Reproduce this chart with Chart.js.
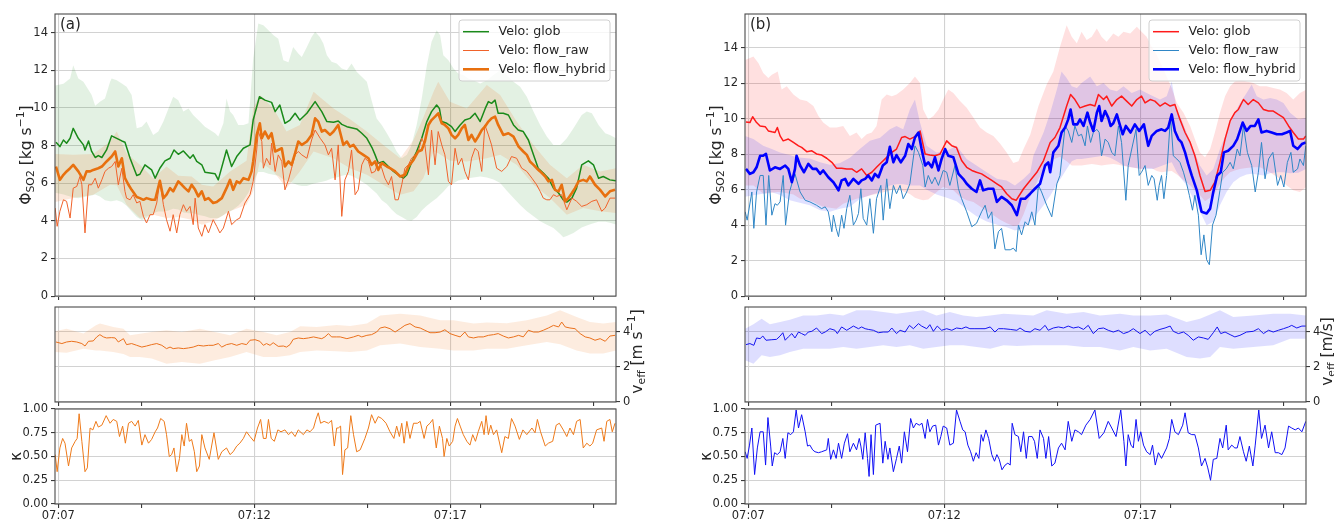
<!DOCTYPE html>
<html>
<head>
<meta charset="utf-8">
<script src="https://cdn.jsdelivr.net/npm/chart.js@4.4.1/dist/chart.umd.min.js"></script>
<style>
  html, body { margin: 0; padding: 0; background: #fff; width: 1334px; height: 519px; overflow: hidden; }
  canvas { position: absolute; }
</style>
</head>
<body>
<canvas id="aTop"></canvas>
<canvas id="aMid"></canvas>
<canvas id="aBot"></canvas>
<canvas id="bTop"></canvas>
<canvas id="bMid"></canvas>
<canvas id="bBot"></canvas>
<script>
// Time is given in minutes after 07:07:00.
const X_MIN = -0.085, X_MAX = 14.225;
const X_MAJOR = [0, 5, 10];
const X_MAJOR_LABELS = ['07:07', '07:12', '07:17'];
const X_MINOR = [2.13, 7.89, 10.76, 13.64];

const SERIES_LABELS = ['Velo: glob', 'Velo: flow_raw', 'Velo: flow_hybrid'];
const PANEL_TAGS = ['(a)', '(b)'];

// ---------- panel (a): SO2 flux [kg/s], rows are [t, value] ----------
const A_GLOB = [[-0.06,8.18],[0.04,7.95],[0.13,8.30],[0.21,8.13],[0.30,8.39],[0.38,8.92],[0.51,8.39],[0.64,8.04],[0.68,7.77],[0.77,8.25],[0.85,7.69],[0.94,7.37],[1.02,7.47],[1.11,7.37],[1.23,7.77],[1.36,8.52],[1.49,8.39],[1.62,8.25],[1.70,8.18],[1.83,7.33],[2.00,6.41],[2.08,6.48],[2.21,6.98],[2.38,6.71],[2.47,6.27],[2.59,6.80],[2.72,7.19],[2.85,7.33],[2.95,7.77],[3.06,7.54],[3.19,7.72],[3.36,7.33],[3.44,7.51],[3.53,7.16],[3.66,6.98],[3.74,6.59],[4.00,6.50],[4.08,6.18],[4.29,7.77],[4.42,6.89],[4.55,7.42],[4.72,7.86],[4.89,8.04],[4.97,9.36],[5.13,10.60],[5.27,10.42],[5.44,10.30],[5.53,9.81],[5.65,10.16],[5.78,9.19],[5.91,9.36],[6.04,9.72],[6.16,9.36],[6.34,9.72],[6.55,10.34],[6.72,9.81],[6.85,9.28],[7.02,9.24],[7.14,9.31],[7.23,9.13],[7.36,9.01],[7.61,8.89],[7.74,8.66],[7.87,8.39],[8.00,7.90],[8.08,7.51],[8.16,7.07],[8.29,7.16],[8.42,6.89],[8.55,6.63],[8.67,6.45],[8.80,6.27],[8.89,6.45],[9.02,7.16],[9.14,7.69],[9.27,8.39],[9.40,9.28],[9.52,9.81],[9.65,10.16],[9.72,9.98],[9.78,9.28],[9.91,9.19],[10.03,9.01],[10.12,8.75],[10.25,9.10],[10.37,9.36],[10.50,9.45],[10.63,9.72],[10.76,9.28],[10.89,9.98],[10.97,10.34],[11.05,10.25],[11.14,10.42],[11.22,9.72],[11.35,9.72],[11.48,9.63],[11.61,9.10],[11.73,8.83],[11.86,8.75],[11.99,8.30],[12.12,7.51],[12.24,6.80],[12.37,6.54],[12.50,6.27],[12.63,5.74],[12.76,5.48],[12.88,5.12],[12.97,5.00],[13.10,5.21],[13.22,5.74],[13.35,6.98],[13.52,7.19],[13.65,6.98],[13.78,6.27],[13.90,6.36],[14.07,6.18],[14.22,6.13]];

const A_RAW = [[-0.08,4.68],[-0.03,3.71],[0.04,4.51],[0.13,5.12],[0.21,5.04],[0.30,4.15],[0.38,5.74],[0.47,5.83],[0.55,6.36],[0.60,5.92],[0.68,3.36],[0.77,5.92],[0.85,5.92],[0.94,6.27],[1.02,5.74],[1.11,6.18],[1.19,6.63],[1.28,6.80],[1.36,6.89],[1.45,7.16],[1.53,5.92],[1.62,6.80],[1.70,5.57],[1.74,5.21],[1.83,5.12],[1.91,5.39],[2.00,4.95],[2.08,5.04],[2.17,4.24],[2.25,3.89],[2.34,4.33],[2.42,4.33],[2.51,4.95],[2.59,6.10],[2.68,4.86],[2.76,4.06],[2.85,3.45],[2.93,4.33],[3.02,3.36],[3.10,4.33],[3.19,4.86],[3.27,4.51],[3.36,4.77],[3.44,3.80],[3.49,5.21],[3.57,3.62],[3.66,3.18],[3.74,3.80],[3.83,3.36],[3.95,4.06],[4.04,3.71],[4.12,3.36],[4.21,3.62],[4.34,4.51],[4.42,3.80],[4.55,4.06],[4.63,4.15],[4.76,4.95],[4.89,5.39],[4.97,6.10],[5.06,7.77],[5.10,8.75],[5.19,8.22],[5.23,6.80],[5.31,7.33],[5.40,6.98],[5.44,8.13],[5.53,6.63],[5.61,7.51],[5.70,7.16],[5.78,5.65],[5.87,6.18],[5.95,6.80],[6.04,7.51],[6.12,7.69],[6.21,7.51],[6.34,7.33],[6.46,8.30],[6.55,8.83],[6.68,8.39],[6.80,8.04],[6.89,7.51],[6.97,7.86],[7.06,6.18],[7.14,8.04],[7.23,4.24],[7.31,6.18],[7.40,6.63],[7.48,7.77],[7.57,5.39],[7.65,5.65],[7.74,6.98],[7.82,7.33],[7.91,7.16],[7.99,6.54],[8.08,6.63],[8.16,7.16],[8.25,6.80],[8.33,6.27],[8.42,5.92],[8.50,6.36],[8.59,5.12],[8.67,5.12],[8.76,5.92],[8.84,6.80],[8.93,6.98],[9.01,7.33],[9.10,7.51],[9.18,7.69],[9.27,8.39],[9.35,8.04],[9.44,6.45],[9.52,8.83],[9.61,6.98],[9.69,8.75],[9.78,8.04],[9.86,7.51],[9.95,6.10],[10.03,5.92],[10.12,7.86],[10.20,6.98],[10.29,7.33],[10.37,6.63],[10.46,6.18],[10.54,7.33],[10.63,7.86],[10.71,7.69],[10.80,6.63],[10.88,9.10],[10.97,8.57],[11.05,8.04],[11.18,6.80],[11.31,6.63],[11.44,6.89],[11.56,7.42],[11.69,7.33],[11.82,6.80],[11.95,6.63],[12.08,6.27],[12.20,5.92],[12.29,5.57],[12.37,5.21],[12.46,5.12],[12.54,5.12],[12.63,5.39],[12.71,5.30],[12.84,5.39],[12.97,4.59],[13.10,5.21],[13.22,5.04],[13.35,4.77],[13.48,4.86],[13.61,5.04],[13.73,5.12],[13.86,4.51],[13.95,4.68],[14.07,5.21],[14.20,5.21]];

const A_HYBRID = [[-0.06,6.89],[0.04,6.18],[0.13,6.45],[0.21,6.63],[0.30,6.80],[0.38,6.98],[0.51,6.63],[0.64,6.18],[0.72,6.63],[0.81,6.63],[0.89,6.71],[1.02,6.80],[1.11,6.89],[1.23,7.16],[1.36,7.42],[1.45,7.69],[1.53,6.89],[1.62,7.33],[1.70,6.27],[1.79,5.92],[1.87,5.65],[2.00,5.27],[2.08,5.21],[2.17,5.12],[2.25,5.21],[2.38,5.12],[2.47,5.12],[2.59,6.13],[2.68,5.21],[2.76,5.39],[2.85,5.74],[2.93,5.57],[3.06,6.10],[3.15,5.92],[3.23,5.74],[3.32,5.57],[3.40,5.92],[3.49,5.65],[3.57,5.30],[3.66,5.57],[3.74,5.12],[3.83,5.21],[3.95,4.95],[4.04,5.00],[4.17,5.21],[4.29,5.74],[4.38,6.18],[4.46,5.65],[4.55,6.10],[4.63,6.01],[4.72,6.27],[4.85,6.18],[4.93,6.63],[4.97,7.16],[5.06,8.57],[5.14,9.19],[5.19,8.39],[5.27,8.75],[5.36,8.39],[5.44,8.66],[5.53,7.69],[5.61,7.77],[5.70,7.86],[5.78,6.89],[5.87,7.16],[5.95,6.98],[6.04,7.60],[6.12,8.22],[6.21,8.04],[6.34,8.22],[6.46,8.57],[6.55,9.45],[6.63,9.28],[6.72,8.75],[6.80,8.83],[6.93,8.57],[7.02,8.75],[7.14,9.10],[7.27,8.04],[7.36,8.22],[7.44,7.95],[7.53,8.04],[7.65,7.69],[7.78,7.51],[7.91,7.33],[7.99,6.98],[8.08,7.16],[8.16,6.71],[8.25,7.07],[8.38,6.89],[8.46,6.80],[8.59,6.63],[8.72,6.36],[8.84,6.45],[8.93,6.89],[9.06,7.24],[9.18,7.69],[9.27,7.77],[9.35,8.22],[9.44,9.10],[9.52,9.36],[9.61,9.54],[9.69,9.72],[9.78,9.19],[9.86,9.10],[9.95,8.92],[10.03,8.57],[10.12,8.39],[10.20,8.57],[10.29,8.92],[10.37,9.10],[10.46,8.30],[10.54,8.57],[10.63,8.22],[10.71,8.48],[10.80,8.83],[10.88,9.01],[10.97,9.28],[11.05,9.45],[11.14,9.54],[11.22,9.10],[11.35,8.57],[11.48,8.66],[11.61,8.48],[11.74,7.95],[11.86,7.69],[11.95,7.51],[12.03,7.16],[12.12,6.98],[12.20,6.80],[12.29,6.63],[12.42,6.36],[12.50,6.10],[12.59,6.18],[12.67,5.65],[12.76,5.57],[12.84,5.92],[12.93,5.04],[13.01,5.21],[13.10,5.48],[13.18,5.74],[13.27,6.10],[13.39,6.18],[13.48,6.10],[13.56,6.36],[13.69,5.92],[13.82,5.65],[13.95,5.30],[14.07,5.57],[14.20,5.65]];

// uncertainty bands, rows are [t, lower, upper]
const A_GLOB_BAND = [[-0.08,5.50,11.20],[0.13,5.40,11.29],[0.30,5.30,11.57],[0.38,5.25,12.28],[0.51,5.20,11.57],[0.64,5.25,11.40],[0.72,5.30,11.13],[0.85,5.35,10.69],[0.94,5.40,10.12],[1.06,5.30,10.34],[1.19,5.10,10.51],[1.32,5.05,11.40],[1.36,5.05,11.57],[1.49,5.10,11.48],[1.62,5.00,11.31],[1.74,4.80,11.13],[1.87,4.50,10.69],[2.00,4.20,8.92],[2.13,4.05,9.01],[2.25,4.15,9.28],[2.42,4.40,8.57],[2.55,4.50,8.75],[2.68,4.50,9.28],[2.81,4.55,9.98],[2.93,4.65,10.60],[3.06,4.60,10.42],[3.19,4.45,9.81],[3.32,4.40,9.98],[3.44,4.40,9.63],[3.61,4.30,9.28],[3.74,4.25,9.01],[3.87,4.15,8.83],[4.00,4.15,8.66],[4.08,4.15,8.48],[4.21,4.30,9.19],[4.29,4.45,10.51],[4.38,4.50,9.81],[4.46,4.60,9.63],[4.59,4.80,9.10],[4.72,5.10,9.10],[4.85,5.50,9.19],[4.97,6.10,12.63],[5.10,6.60,14.49],[5.23,6.60,14.40],[5.36,6.50,14.13],[5.49,6.45,13.87],[5.61,6.40,13.69],[5.74,6.20,12.54],[5.87,6.10,12.44],[5.99,6.00,13.25],[6.12,5.90,12.90],[6.21,5.85,12.72],[6.34,5.85,13.25],[6.46,5.95,13.78],[6.55,6.00,14.05],[6.67,6.05,13.78],[6.76,6.10,13.43],[6.85,6.15,12.81],[6.97,6.25,12.46],[7.10,6.30,12.37],[7.23,6.40,12.10],[7.36,6.45,12.01],[7.48,6.40,12.37],[7.61,6.25,11.93],[7.74,6.10,11.66],[7.87,5.92,11.40],[7.99,5.70,10.42],[8.12,5.45,9.45],[8.25,5.10,9.10],[8.38,4.90,8.66],[8.50,4.60,8.22],[8.63,4.35,7.69],[8.76,4.20,7.33],[8.89,4.05,7.51],[9.01,4.00,8.04],[9.14,4.20,9.10],[9.27,4.55,10.51],[9.40,4.80,12.28],[9.52,5.00,13.52],[9.65,5.20,14.13],[9.74,5.39,13.87],[9.82,5.55,12.81],[9.95,5.85,12.54],[10.08,6.00,12.10],[10.20,6.15,11.84],[10.33,6.20,11.75],[10.46,6.27,11.57],[10.59,6.30,11.48],[10.76,6.36,11.31],[10.93,6.30,11.48],[11.10,6.20,11.75],[11.27,6.01,12.01],[11.44,5.60,11.75],[11.61,5.21,11.40],[11.78,4.85,11.13],[11.95,4.51,10.60],[12.12,4.25,9.81],[12.29,3.98,9.10],[12.46,3.80,8.48],[12.63,3.62,8.04],[12.80,3.30,8.04],[12.88,3.13,8.20],[12.97,3.20,8.39],[13.14,3.36,8.92],[13.35,3.65,9.63],[13.48,3.75,9.81],[13.61,3.85,9.72],[13.78,3.95,9.10],[13.95,3.95,8.66],[14.07,3.90,8.57],[14.23,3.80,8.39]];

const A_HYBRID_BAND = [[-0.08,5.00,7.55],[0.38,5.21,7.51],[0.89,5.39,7.55],[1.32,5.92,8.22],[1.49,5.90,8.75],[1.74,4.86,7.60],[2.08,4.15,6.98],[2.42,4.33,6.27],[2.76,4.15,6.89],[3.06,4.20,6.40],[3.40,4.06,6.36],[3.66,3.80,5.92],[3.95,3.98,5.83],[4.38,4.51,6.63],[4.80,4.86,7.20],[4.97,5.57,9.98],[5.14,7.16,10.69],[5.49,6.63,9.98],[5.82,5.74,8.75],[6.16,6.63,9.10],[6.51,7.69,10.87],[7.02,7.33,9.98],[7.44,6.80,9.40],[7.87,6.45,8.75],[8.29,5.92,8.04],[8.72,5.39,7.33],[9.06,5.57,8.30],[9.31,6.27,9.50],[9.57,7.69,10.87],[9.69,7.60,11.40],[9.99,7.20,10.34],[10.42,7.16,9.98],[10.93,7.33,11.22],[11.27,7.51,10.69],[11.69,6.98,9.28],[12.12,5.92,8.04],[12.54,5.21,6.98],[12.97,4.33,6.27],[13.39,4.68,6.98],[13.82,4.51,6.63],[14.23,4.42,6.80]];

// effective plume velocity [m/s]
const A_VEFF = [[-0.06,3.43],[0.09,3.34],[0.21,3.43],[0.34,3.47],[0.47,3.43],[0.60,3.34],[0.68,3.20],[0.77,3.47],[0.89,3.49],[0.98,3.72],[1.06,3.85],[1.15,3.72],[1.23,3.66],[1.36,3.68],[1.45,3.66],[1.53,3.43],[1.66,3.62],[1.74,3.28],[1.87,3.34],[2.00,3.24],[2.13,3.14],[2.25,3.20],[2.38,3.28],[2.51,3.34],[2.64,3.24],[2.76,3.05],[2.85,3.14],[2.93,3.05],[3.06,3.09],[3.19,3.05],[3.32,3.09],[3.44,3.14],[3.57,3.24],[3.70,3.20],[3.83,3.24],[3.95,3.24],[4.08,3.34],[4.17,3.14],[4.29,3.28],[4.42,3.34],[4.55,3.24],[4.68,3.34],[4.80,3.28],[4.89,3.53],[5.02,3.56],[5.14,3.47],[5.23,3.24],[5.31,3.34],[5.40,3.24],[5.48,3.39],[5.61,3.18],[5.74,3.20],[5.82,3.14],[5.91,3.28],[5.99,3.58],[6.12,3.66],[6.25,3.62],[6.38,3.66],[6.51,3.72],[6.63,3.66],[6.72,3.62],[6.80,3.72],[6.89,3.91],[6.97,3.72],[7.10,3.72],[7.19,3.72],[7.36,3.62],[7.53,3.72],[7.65,3.81],[7.74,3.72],[7.87,3.81],[7.99,3.85],[8.12,4.00],[8.21,4.23],[8.33,4.29],[8.46,4.19],[8.59,4.00],[8.72,4.19],[8.84,4.38],[8.97,4.48],[9.10,4.29],[9.23,4.23],[9.35,4.10],[9.48,3.96],[9.61,3.96],[9.74,4.00],[9.86,4.13],[9.99,3.91],[10.12,3.81],[10.25,3.72],[10.37,4.00],[10.46,3.72],[10.59,3.66],[10.71,3.72],[10.84,3.72],[10.97,3.81],[11.10,3.85],[11.22,3.91],[11.35,3.77],[11.48,3.66],[11.61,3.72],[11.74,3.81],[11.86,3.72],[11.99,4.10],[12.12,4.00],[12.25,4.00],[12.37,4.10],[12.50,4.23],[12.63,4.38],[12.76,4.29],[12.84,4.57],[12.93,4.29],[13.05,4.23],[13.18,4.19],[13.31,3.91],[13.44,3.72],[13.56,3.66],[13.69,3.53],[13.82,3.62],[13.95,3.47],[14.07,3.77],[14.20,3.81]];

const A_VEFF_BAND = [[-0.08,2.86,4.04],[0.21,2.82,4.19],[0.64,3.05,3.91],[0.96,2.95,4.38],[1.06,2.95,4.48],[1.40,2.86,4.29],[1.66,2.75,4.19],[1.83,2.57,3.81],[2.08,2.57,3.90],[2.38,2.48,4.00],[2.76,2.19,4.10],[3.15,2.29,4.00],[3.61,2.19,4.19],[3.99,2.38,4.00],[4.38,2.57,3.81],[4.80,2.86,4.19],[5.23,2.57,4.00],[5.57,2.57,3.81],[5.91,2.67,4.00],[6.17,2.86,4.33],[6.59,2.95,4.29],[7.10,2.90,4.40],[7.44,2.86,4.35],[7.87,2.95,4.48],[8.21,3.24,4.95],[8.72,3.34,5.05],[9.23,3.14,4.95],[9.74,3.05,4.67],[10.08,2.95,4.67],[10.59,2.95,4.48],[10.93,3.05,4.55],[11.44,3.05,4.50],[11.95,3.24,4.67],[12.46,3.43,4.95],[12.80,3.30,5.24],[13.22,2.95,4.86],[13.56,2.77,4.57],[13.90,2.77,4.48],[14.23,2.95,4.57]];

// kappa
const A_KAPPA = [[-0.08,0.52],[-0.03,0.34],[0.04,0.59],[0.11,0.69],[0.17,0.64],[0.26,0.40],[0.34,0.59],[0.43,0.66],[0.48,0.69],[0.53,0.95],[0.60,0.66],[0.68,0.34],[0.74,0.38],[0.81,0.80],[0.88,0.78],[0.96,0.87],[1.02,0.81],[1.11,0.83],[1.22,0.93],[1.32,0.85],[1.40,0.89],[1.49,0.87],[1.56,0.71],[1.64,0.82],[1.71,0.64],[1.79,0.85],[1.87,0.87],[1.96,0.82],[2.04,0.88],[2.13,0.62],[2.21,0.73],[2.30,0.64],[2.38,0.68],[2.47,0.76],[2.53,0.80],[2.61,0.90],[2.70,0.87],[2.76,0.73],[2.83,0.50],[2.89,0.52],[2.95,0.59],[3.02,0.34],[3.09,0.48],[3.15,0.73],[3.21,0.61],[3.27,0.85],[3.34,0.66],[3.40,0.68],[3.47,0.55],[3.53,0.34],[3.60,0.40],[3.66,0.73],[3.74,0.59],[3.85,0.47],[3.97,0.75],[4.08,0.47],[4.17,0.55],[4.29,0.59],[4.38,0.52],[4.46,0.55],[4.55,0.61],[4.63,0.64],[4.72,0.69],[4.80,0.76],[4.89,0.71],[4.99,0.66],[5.08,0.80],[5.16,0.89],[5.23,0.69],[5.30,0.69],[5.36,0.89],[5.43,0.69],[5.51,0.66],[5.60,0.78],[5.68,0.76],[5.78,0.78],[5.87,0.73],[5.95,0.76],[6.04,0.71],[6.12,0.78],[6.25,0.73],[6.34,0.78],[6.42,0.76],[6.51,0.80],[6.57,0.89],[6.63,0.96],[6.69,0.85],[6.78,0.87],[6.89,0.85],[6.97,0.88],[7.04,0.61],[7.10,0.80],[7.14,0.80],[7.20,0.82],[7.25,0.31],[7.31,0.57],[7.38,0.59],[7.46,0.93],[7.53,0.73],[7.61,0.55],[7.70,0.57],[7.82,0.69],[7.91,0.80],[7.99,0.94],[8.08,0.85],[8.16,0.92],[8.25,0.90],[8.36,0.85],[8.46,0.76],[8.56,0.69],[8.63,0.82],[8.70,0.71],[8.76,0.85],[8.82,0.64],[8.89,0.87],[8.97,0.69],[9.06,0.85],[9.16,0.85],[9.23,0.87],[9.33,0.69],[9.40,0.82],[9.48,0.85],[9.55,0.89],[9.64,0.59],[9.72,0.82],[9.80,0.69],[9.84,0.50],[9.91,0.69],[9.97,0.61],[10.06,0.66],[10.12,0.82],[10.18,0.90],[10.25,0.82],[10.33,0.73],[10.42,0.66],[10.50,0.62],[10.57,0.73],[10.64,0.66],[10.71,0.76],[10.80,0.87],[10.86,0.73],[10.91,0.93],[10.97,0.73],[11.03,0.83],[11.10,0.73],[11.18,0.78],[11.31,0.54],[11.39,0.71],[11.48,0.69],[11.56,0.90],[11.65,0.82],[11.76,0.68],[11.85,0.78],[11.95,0.73],[12.08,0.80],[12.16,0.75],[12.22,0.89],[12.30,0.76],[12.42,0.61],[12.50,0.64],[12.61,0.66],[12.70,0.83],[12.78,0.85],[12.88,0.78],[12.97,0.71],[13.05,0.80],[13.14,0.73],[13.22,0.87],[13.31,0.89],[13.39,0.59],[13.48,0.64],[13.56,0.61],[13.63,0.64],[13.73,0.78],[13.86,0.80],[13.92,0.66],[13.99,0.87],[14.07,0.89],[14.13,0.76],[14.20,0.85]];

// ---------- panel (b) ----------
const B_GLOB = [[-0.06,9.81],[0.04,9.78],[0.11,10.11],[0.21,9.78],[0.30,9.59],[0.43,9.55],[0.51,9.31],[0.60,9.26],[0.68,9.22],[0.74,9.50],[0.81,9.03],[0.89,8.75],[1.02,8.85],[1.15,8.66],[1.28,8.47],[1.36,8.38],[1.49,8.14],[1.62,8.19],[1.74,8.01],[1.87,7.95],[2.00,7.77],[2.13,7.54],[2.25,7.21],[2.38,7.21],[2.51,7.17],[2.64,7.17],[2.76,6.98],[2.89,7.17],[3.02,6.80],[3.15,6.98],[3.27,7.26],[3.40,7.54],[3.53,7.82],[3.66,8.10],[3.78,8.29],[3.91,8.94],[4.00,8.99],[4.12,8.85],[4.25,8.99],[4.38,9.31],[4.51,8.01],[4.63,7.95],[4.76,7.91],[4.89,8.01],[5.06,8.75],[5.19,8.47],[5.31,8.38],[5.44,7.64],[5.57,7.26],[5.70,7.08],[5.82,6.98],[5.95,6.89],[6.08,6.70],[6.21,6.52],[6.34,6.33],[6.46,6.15],[6.59,5.77],[6.72,5.49],[6.83,5.40],[7.02,6.05],[7.19,6.52],[7.36,6.98],[7.53,7.64],[7.70,8.66],[7.82,8.94],[7.95,9.50],[8.12,10.71],[8.22,11.36],[8.33,11.08],[8.46,10.61],[8.59,10.71],[8.72,10.80],[8.84,10.71],[8.93,11.36],[9.06,11.08],[9.14,11.27],[9.27,10.71],[9.40,11.08],[9.52,11.27],[9.65,10.99],[9.78,10.71],[9.91,11.08],[10.03,11.27],[10.12,10.89],[10.25,11.08],[10.37,10.99],[10.50,10.71],[10.63,10.89],[10.76,10.71],[10.88,10.80],[11.01,9.96],[11.14,9.22],[11.27,8.66],[11.39,7.91],[11.52,6.80],[11.65,5.90],[11.78,5.96],[11.90,6.42],[12.03,7.54],[12.16,8.85],[12.29,9.87],[12.41,10.34],[12.50,10.52],[12.63,11.08],[12.75,10.80],[12.88,11.08],[13.01,10.89],[13.14,10.52],[13.27,10.43],[13.39,10.43],[13.52,10.24],[13.65,10.06],[13.78,9.59],[13.90,9.22],[14.03,8.85],[14.16,8.85],[14.22,9.03]];

const B_RAW = [[-0.08,4.75],[-0.03,4.28],[0.09,5.87],[0.14,3.82],[0.21,5.87],[0.30,6.80],[0.38,6.80],[0.45,4.00],[0.52,6.80],[0.60,4.56],[0.68,5.21],[0.74,5.12],[0.81,5.31],[0.89,6.80],[0.95,4.00],[1.05,5.87],[1.11,6.33],[1.19,6.89],[1.32,5.87],[1.45,5.40],[1.57,5.31],[1.74,5.12],[1.87,4.93],[1.96,5.03],[2.04,4.75],[2.13,3.63],[2.17,4.56],[2.24,3.82],[2.30,3.35],[2.38,4.56],[2.44,3.82],[2.51,4.93],[2.59,5.68],[2.68,4.00],[2.75,4.28],[2.81,4.66],[2.87,6.05],[2.93,4.38],[3.02,4.00],[3.10,5.49],[3.19,3.54],[3.27,5.49],[3.38,6.24],[3.44,4.28],[3.53,6.61],[3.61,4.93],[3.70,6.24],[3.78,5.77],[3.87,6.24],[3.95,5.49],[4.04,5.87],[4.12,6.33],[4.25,8.47],[4.34,8.10],[4.45,7.36],[4.51,6.15],[4.59,6.80],[4.68,6.33],[4.76,6.70],[4.85,6.24],[4.97,7.08],[5.06,6.98],[5.14,6.24],[5.27,7.36],[5.36,6.05],[5.44,5.49],[5.57,4.75],[5.70,3.91],[5.82,4.10],[5.95,4.75],[6.04,5.12],[6.12,4.38],[6.21,4.75],[6.29,2.66],[6.38,3.63],[6.46,3.82],[6.55,2.61],[6.68,2.61],[6.76,2.70],[6.83,2.51],[6.89,4.00],[6.97,3.45],[7.06,4.19],[7.14,4.00],[7.23,4.75],[7.31,4.00],[7.40,6.24],[7.48,5.87],[7.61,5.12],[7.74,4.47],[7.87,6.33],[7.95,6.80],[8.08,9.59],[8.16,9.31],[8.25,8.66],[8.33,9.59],[8.42,9.03],[8.50,9.12],[8.59,8.47],[8.65,9.59],[8.73,8.66],[8.80,9.22],[8.89,9.40],[8.95,9.22],[9.01,7.91],[9.10,8.85],[9.18,8.66],[9.27,8.10],[9.35,7.91],[9.44,9.59],[9.52,8.66],[9.63,5.40],[9.69,7.36],[9.78,8.29],[9.89,9.40],[9.97,6.80],[10.03,6.98],[10.12,7.36],[10.20,6.24],[10.29,6.80],[10.35,6.61],[10.43,5.40],[10.48,6.24],[10.54,6.80],[10.60,5.49],[10.67,6.80],[10.77,10.15],[10.84,7.91],[10.93,7.73],[11.01,7.54],[11.10,6.98],[11.18,6.33],[11.25,5.68],[11.33,4.84],[11.39,5.68],[11.48,4.56],[11.55,2.33],[11.62,3.45],[11.69,2.05],[11.76,1.77],[11.84,4.00],[11.93,4.56],[12.03,5.96],[12.10,6.98],[12.19,7.17],[12.29,7.54],[12.37,7.17],[12.47,8.29],[12.54,7.91],[12.63,9.59],[12.73,8.10],[12.84,7.36],[12.93,5.87],[13.01,6.98],[13.09,8.66],[13.18,6.61],[13.27,7.73],[13.38,8.10],[13.50,6.24],[13.58,6.80],[13.66,6.15],[13.75,7.54],[13.84,8.10],[13.90,6.98],[14.01,7.17],[14.07,7.73],[14.16,7.36],[14.22,8.47]];

const B_HYBRID = [[-0.06,7.17],[0.04,6.89],[0.13,6.98],[0.21,7.26],[0.30,7.91],[0.37,7.91],[0.45,8.01],[0.55,7.08],[0.68,7.26],[0.81,7.17],[0.94,7.36],[1.02,7.17],[1.11,6.42],[1.19,7.17],[1.23,7.91],[1.32,7.36],[1.42,6.98],[1.53,7.45],[1.64,7.17],[1.74,7.17],[1.83,6.89],[1.91,7.08],[2.04,6.70],[2.17,6.42],[2.25,6.15],[2.30,5.96],[2.38,6.52],[2.47,6.61],[2.55,6.24],[2.68,6.61],[2.81,6.33],[2.89,6.52],[2.98,6.61],[3.06,6.80],[3.15,6.52],[3.23,6.89],[3.32,6.70],[3.43,7.36],[3.53,7.54],[3.61,8.42],[3.70,7.54],[3.78,7.95],[3.89,7.54],[4.00,7.91],[4.08,8.57],[4.17,8.29],[4.25,8.94],[4.34,9.22],[4.42,8.29],[4.51,7.36],[4.59,7.54],[4.68,7.26],[4.76,7.82],[4.85,7.08],[4.93,7.73],[5.02,8.29],[5.10,7.91],[5.23,7.82],[5.36,6.89],[5.48,6.61],[5.57,6.33],[5.70,6.05],[5.82,5.87],[5.91,6.52],[5.99,5.96],[6.12,6.05],[6.25,6.05],[6.34,5.31],[6.46,5.59],[6.59,5.40],[6.72,5.12],[6.85,4.56],[6.95,5.49],[7.06,5.49],[7.19,5.77],[7.31,6.05],[7.44,6.33],[7.57,7.36],[7.65,7.54],[7.70,6.98],[7.78,8.10],[7.91,8.47],[7.99,9.22],[8.08,9.50],[8.16,9.96],[8.22,10.52],[8.29,9.68],[8.39,9.68],[8.46,9.96],[8.55,9.59],[8.65,10.34],[8.72,9.78],[8.80,9.31],[8.89,10.34],[8.95,10.71],[9.01,9.87],[9.10,10.43],[9.18,10.06],[9.24,9.59],[9.31,9.74],[9.40,10.24],[9.46,9.78],[9.55,9.12],[9.63,9.59],[9.75,9.22],[9.86,9.68],[9.97,9.31],[10.09,9.68],[10.20,8.47],[10.29,9.03],[10.42,9.31],[10.54,9.40],[10.63,9.31],[10.71,9.50],[10.80,10.24],[10.88,9.31],[10.97,8.85],[11.05,8.66],[11.14,8.10],[11.22,7.45],[11.31,6.80],[11.44,5.96],[11.56,4.75],[11.69,4.66],[11.78,4.93],[11.86,5.87],[11.96,6.80],[12.05,6.98],[12.13,8.10],[12.24,8.19],[12.37,8.47],[12.47,8.85],[12.61,9.78],[12.71,9.31],[12.81,9.59],[12.92,9.59],[13.01,9.96],[13.09,9.22],[13.22,9.31],[13.35,9.22],[13.48,9.12],[13.61,9.12],[13.73,9.22],[13.82,9.31],[13.90,8.47],[14.01,8.29],[14.12,8.57],[14.22,8.66]];

const B_GLOB_BAND = [[-0.08,6.24,13.31],[0.13,6.24,13.50],[0.26,6.00,13.13],[0.38,5.77,12.57],[0.51,5.80,12.29],[0.60,5.82,12.48],[0.75,5.87,12.66],[0.85,5.85,11.64],[0.98,5.80,11.83],[1.15,5.72,11.36],[1.32,5.49,11.08],[1.49,5.43,10.99],[1.66,5.30,10.71],[1.79,5.15,10.15],[1.91,5.03,9.78],[2.08,4.98,9.50],[2.25,4.93,9.50],[2.42,5.20,9.59],[2.59,5.35,9.03],[2.76,5.49,9.22],[2.89,5.55,8.85],[3.02,5.62,9.12],[3.15,5.70,9.22],[3.27,5.75,9.59],[3.40,5.82,11.08],[3.53,5.90,11.36],[3.66,5.98,11.27],[3.78,6.05,11.36],[3.95,5.90,11.64],[4.12,5.75,12.01],[4.25,5.55,12.38],[4.38,5.45,12.01],[4.46,5.40,10.52],[4.59,5.45,9.96],[4.72,5.70,10.15],[4.85,5.95,10.52],[4.97,6.15,11.08],[5.10,6.05,11.64],[5.23,5.96,11.45],[5.40,5.60,10.99],[5.57,5.40,10.61],[5.74,5.31,10.06],[5.91,5.05,9.50],[6.08,4.80,9.22],[6.25,4.56,9.03],[6.42,4.30,8.60],[6.59,4.10,8.10],[6.76,3.95,7.50],[6.89,4.00,7.60],[7.02,4.60,8.29],[7.19,5.60,9.10],[7.40,6.60,10.71],[7.61,7.36,11.92],[7.78,7.70,12.66],[7.95,7.85,14.06],[8.12,7.60,15.27],[8.25,7.36,14.62],[8.38,7.36,14.25],[8.50,7.36,14.90],[8.63,7.40,14.43],[8.76,7.45,14.62],[8.89,7.40,15.08],[9.01,7.36,14.62],[9.14,7.40,14.34],[9.31,7.45,14.80],[9.44,7.40,14.62],[9.57,7.33,14.90],[9.74,7.26,14.80],[9.91,7.20,15.18],[10.03,7.17,14.90],[10.16,7.22,14.62],[10.29,7.20,14.06],[10.42,7.05,13.59],[10.54,6.98,13.04],[10.67,7.02,12.38],[10.80,7.05,11.73],[10.93,6.85,10.89],[11.10,6.55,10.34],[11.27,6.24,9.59],[11.39,5.95,8.85],[11.52,5.68,8.10],[11.65,5.35,7.82],[11.78,5.55,8.29],[11.90,5.80,9.22],[12.03,6.33,10.34],[12.16,6.70,11.27],[12.29,6.98,11.83],[12.41,7.08,12.10],[12.54,7.17,12.20],[12.71,7.22,12.10],[12.88,7.26,12.01],[13.05,7.26,11.83],[13.22,7.08,11.83],[13.39,6.85,11.73],[13.56,6.61,11.64],[13.73,6.24,11.45],[13.90,5.96,11.08],[14.07,5.87,11.45],[14.23,6.15,11.64]];

const B_HYBRID_BAND = [[-0.08,5.60,9.03],[0.13,5.68,8.85],[0.38,5.77,8.47],[0.60,5.85,8.29],[0.81,5.70,8.10],[1.06,5.40,7.95],[1.23,5.30,7.82],[1.57,5.12,7.75],[1.83,4.84,7.55],[2.08,4.75,7.40],[2.34,4.93,7.50],[2.59,5.03,7.80],[2.85,5.49,8.30],[3.10,5.68,8.75],[3.36,5.87,8.92],[3.61,6.24,9.40],[3.78,6.30,9.59],[3.95,6.30,9.40],[4.12,6.24,10.52],[4.25,6.24,11.08],[4.38,6.24,9.78],[4.55,6.00,8.47],[4.80,5.72,8.10],[5.06,5.55,8.19],[5.31,5.35,8.47],[5.57,4.90,7.73],[5.82,4.50,7.36],[6.08,4.20,6.98],[6.34,4.02,6.61],[6.59,3.88,6.52],[6.80,3.70,6.24],[7.02,3.82,6.61],[7.19,4.19,6.98],[7.27,4.38,7.91],[7.53,5.12,9.22],[7.70,5.65,10.34],[7.87,6.30,11.64],[7.99,6.70,12.66],[8.12,7.17,12.29],[8.25,7.60,11.83],[8.38,7.73,11.73],[8.50,7.73,12.01],[8.72,7.80,12.38],[8.89,7.85,11.83],[9.06,7.91,12.01],[9.23,7.80,11.64],[9.40,7.60,11.55],[9.57,7.36,11.83],[9.78,7.26,11.45],[9.99,7.18,11.64],[10.16,7.17,11.45],[10.33,7.17,11.27],[10.50,7.30,11.08],[10.67,7.45,11.27],[10.80,7.54,12.10],[10.93,6.98,10.52],[11.05,6.60,9.96],[11.18,6.24,9.22],[11.35,5.49,8.29],[11.52,4.75,7.36],[11.69,4.00,6.80],[11.86,4.19,7.17],[12.03,5.12,8.29],[12.20,5.87,9.22],[12.37,6.42,10.15],[12.54,6.70,10.89],[12.71,6.85,11.45],[12.84,6.89,11.92],[12.97,6.85,11.27],[13.14,6.80,11.08],[13.31,6.92,11.17],[13.48,6.98,11.08],[13.65,6.98,10.89],[13.82,6.92,10.34],[14.03,6.95,9.96],[14.23,7.17,10.06]];

const B_VEFF = [[-0.06,3.28],[0.04,3.34],[0.14,3.24],[0.21,3.66],[0.30,3.62],[0.37,3.77],[0.45,3.53],[0.60,3.56],[0.72,3.58],[0.81,3.77],[0.88,3.96],[0.94,3.53],[1.02,3.72],[1.11,3.91],[1.19,3.66],[1.28,4.00],[1.36,3.91],[1.45,3.81],[1.53,4.00],[1.62,4.04],[1.74,4.23],[1.87,3.91],[1.96,4.00],[2.08,4.19],[2.21,4.10],[2.27,3.91],[2.38,4.29],[2.51,4.10],[2.68,4.34],[2.81,4.19],[2.89,4.29],[2.98,4.19],[3.06,4.15],[3.19,4.10],[3.32,3.96],[3.44,4.00],[3.57,4.00],[3.66,4.23],[3.78,3.91],[3.87,4.10],[4.00,4.00],[4.11,4.38],[4.21,4.19],[4.34,4.48],[4.42,4.34],[4.55,4.19],[4.63,4.42],[4.72,4.04],[4.82,4.34],[4.93,4.10],[5.06,4.19],[5.19,4.10],[5.31,4.23],[5.44,4.19],[5.55,4.29],[5.65,4.19],[5.78,4.19],[5.91,4.19],[6.04,4.19],[6.17,4.29],[6.29,4.00],[6.38,4.19],[6.51,4.19],[6.68,4.15],[6.85,4.10],[6.93,4.23],[7.06,4.04],[7.19,4.00],[7.31,4.19],[7.44,4.10],[7.57,4.38],[7.65,4.10],[7.78,4.23],[7.91,4.29],[8.04,4.23],[8.16,4.34],[8.29,4.23],[8.42,4.29],[8.55,4.15],[8.67,4.38],[8.80,3.91],[8.93,4.19],[9.06,4.23],[9.18,4.10],[9.31,4.00],[9.44,4.10],[9.57,3.91],[9.69,4.00],[9.82,4.19],[9.99,3.91],[10.12,4.10],[10.25,3.81],[10.37,4.04],[10.50,4.15],[10.63,4.23],[10.76,4.34],[10.84,4.04],[10.97,3.91],[11.10,4.00],[11.22,3.81],[11.35,3.53],[11.48,3.72],[11.61,3.66],[11.73,3.58],[11.86,3.96],[11.96,4.29],[12.05,3.91],[12.16,4.00],[12.29,3.85],[12.41,3.72],[12.54,3.81],[12.71,4.00],[12.88,4.04],[13.01,4.19],[13.14,3.91],[13.27,4.10],[13.39,4.00],[13.52,4.10],[13.65,4.19],[13.78,4.29],[13.86,4.38],[13.99,4.23],[14.12,4.34],[14.22,4.34]];

const B_VEFF_BAND = [[-0.08,2.38,4.19],[0.13,2.19,4.45],[0.34,2.67,4.76],[0.55,2.57,4.45],[0.81,2.67,4.57],[1.06,2.86,4.70],[1.40,3.05,4.95],[1.74,3.05,4.95],[2.08,3.05,5.05],[2.42,3.14,4.95],[2.76,3.05,5.24],[3.10,3.14,5.24],[3.44,3.24,5.14],[3.78,3.14,5.05],[4.12,3.24,5.14],[4.46,3.05,5.24],[4.80,3.14,4.95],[5.14,3.24,5.14],[5.48,3.24,4.95],[5.82,3.14,4.86],[6.17,3.05,4.95],[6.51,3.24,5.05],[6.85,3.20,5.00],[7.27,3.24,4.95],[7.61,3.24,5.24],[8.12,3.24,5.05],[8.55,3.14,5.14],[8.97,3.14,4.95],[9.48,2.95,5.05],[9.82,3.14,4.95],[10.25,2.95,4.95],[10.67,3.05,5.00],[11.18,2.57,4.57],[11.52,2.48,4.76],[11.78,2.57,5.00],[12.03,3.14,5.24],[12.37,3.05,4.86],[12.88,3.14,4.95],[13.39,3.24,5.05],[13.82,3.62,5.05],[14.23,3.62,4.95]];

const B_KAPPA = [[-0.08,0.55],[-0.03,0.48],[0.03,0.62],[0.09,0.80],[0.16,0.31],[0.23,0.59],[0.30,0.76],[0.38,0.76],[0.44,0.41],[0.50,0.91],[0.57,0.61],[0.61,0.40],[0.67,0.54],[0.74,0.52],[0.81,0.55],[0.88,0.69],[0.94,0.48],[1.01,0.75],[1.08,0.73],[1.15,0.76],[1.22,0.99],[1.28,0.80],[1.36,0.94],[1.45,0.76],[1.51,0.61],[1.57,0.62],[1.64,0.57],[1.70,0.55],[1.79,0.54],[1.87,0.55],[2.00,0.57],[2.04,0.69],[2.10,0.47],[2.17,0.57],[2.24,0.48],[2.30,0.64],[2.38,0.48],[2.45,0.64],[2.53,0.74],[2.59,0.55],[2.68,0.64],[2.76,0.57],[2.83,0.69],[2.87,0.61],[2.92,0.47],[2.98,0.75],[3.04,0.48],[3.08,0.29],[3.13,0.73],[3.19,0.31],[3.25,0.83],[3.36,0.85],[3.43,0.43],[3.49,0.66],[3.56,0.47],[3.61,0.59],[3.70,0.34],[3.78,0.48],[3.85,0.61],[3.91,0.43],[3.98,0.76],[4.06,0.55],[4.14,0.90],[4.21,0.80],[4.28,0.85],[4.36,0.83],[4.43,0.85],[4.51,0.69],[4.57,0.89],[4.63,0.76],[4.70,0.82],[4.78,0.83],[4.85,0.62],[4.91,0.71],[4.97,0.82],[5.06,0.80],[5.14,0.62],[5.23,0.64],[5.31,0.99],[5.40,0.87],[5.47,0.78],[5.53,0.76],[5.60,0.62],[5.67,0.55],[5.74,0.45],[5.81,0.54],[5.88,0.48],[5.94,0.73],[5.99,0.66],[6.06,0.78],[6.13,0.69],[6.21,0.52],[6.28,0.45],[6.34,0.52],[6.40,0.47],[6.47,0.36],[6.55,0.41],[6.62,0.43],[6.68,0.41],[6.73,0.85],[6.80,0.73],[6.89,0.71],[6.95,0.55],[7.02,0.76],[7.09,0.48],[7.15,0.71],[7.24,0.71],[7.30,0.66],[7.37,0.48],[7.44,0.78],[7.53,0.69],[7.59,0.48],[7.66,0.71],[7.74,0.40],[7.82,0.43],[7.91,0.59],[7.99,0.64],[8.08,0.57],[8.16,0.87],[8.25,0.66],[8.33,0.78],[8.42,0.76],[8.50,0.73],[8.61,0.83],[8.72,0.89],[8.84,0.99],[8.95,0.69],[9.07,0.75],[9.18,0.87],[9.27,0.80],[9.38,0.71],[9.50,0.99],[9.58,0.66],[9.63,0.40],[9.69,0.73],[9.76,0.62],[9.82,0.59],[9.89,0.89],[9.95,0.66],[10.01,0.76],[10.08,0.62],[10.16,0.55],[10.25,0.52],[10.31,0.62],[10.38,0.41],[10.46,0.54],[10.54,0.48],[10.67,0.59],[10.74,0.69],[10.80,0.89],[10.88,0.76],[10.97,0.73],[11.08,0.83],[11.14,0.96],[11.22,0.75],[11.31,0.73],[11.39,0.73],[11.48,0.59],[11.56,0.40],[11.65,0.48],[11.72,0.38],[11.79,0.25],[11.86,0.47],[11.95,0.48],[12.03,0.69],[12.10,0.59],[12.19,0.83],[12.24,0.57],[12.33,0.62],[12.41,0.59],[12.47,0.59],[12.54,0.71],[12.63,0.55],[12.70,0.45],[12.78,0.61],[12.87,0.40],[12.93,0.62],[13.02,0.99],[13.09,0.69],[13.18,0.83],[13.27,0.59],[13.35,0.76],[13.44,0.54],[13.52,0.54],[13.61,0.52],[13.69,0.59],[13.78,0.82],[13.86,0.80],[13.95,0.78],[14.03,0.80],[14.12,0.76],[14.22,0.87]];

// ---------- styling ----------
const FONT = 'DejaVu Sans';
const TEXT = '#262626';
const GRID = '#d2d2d2';
const TICK = '#3a3a3a';
const FRAME = '#4a4a4a';

const STYLE_A = {
  glob:   { color: '#1a8a1a', width: 1.5 },
  raw:    { color: '#f0622a', width: 1.0 },
  hybrid: { color: '#e8700f', width: 2.6 },
  globBand: 'rgba(0,128,0,0.11)',
  hybridBand: 'rgba(235,110,20,0.15)',
  veff: '#ea701c', veffBand: 'rgba(240,125,40,0.15)',
  kappa: '#ee7a1a',
};
const STYLE_B = {
  glob:   { color: '#ff1a1a', width: 1.5 },
  raw:    { color: '#2f86c6', width: 1.0 },
  hybrid: { color: '#0000ff', width: 2.6 },
  globBand: 'rgba(255,0,0,0.12)',
  hybridBand: 'rgba(0,0,255,0.12)',
  veff: '#1414f0', veffBand: 'rgba(0,0,255,0.13)',
  kappa: '#1010f5',
};

// ---------- helpers ----------
const xy = (rows, col = 1) => rows.map(r => ({ x: r[0], y: r[col] }));

function lineSet(rows, style, order, label) {
  return { label, inLegend: true, data: xy(rows), borderColor: style.color, borderWidth: style.width,
           fill: false, order, pointRadius: 0, tension: 0, borderJoinStyle: 'round' };
}
function plainLine(rows, color) {
  return { data: xy(rows), borderColor: color, borderWidth: 1, fill: false, order: 1,
           pointRadius: 0, tension: 0, borderJoinStyle: 'round' };
}
function bandSets(rows, color, order) {
  return [
    { data: xy(rows, 2), borderColor: 'rgba(0,0,0,0)', borderWidth: 0, backgroundColor: color, fill: '+1', order, pointRadius: 0 },
    { data: xy(rows, 1), borderColor: 'rgba(0,0,0,0)', borderWidth: 0, fill: false, order, pointRadius: 0 },
  ];
}

function xScale(height, showLabels) {
  const all = [...X_MAJOR, ...X_MINOR].sort((a, b) => a - b);
  return {
    type: 'linear', min: X_MIN, max: X_MAX,
    afterBuildTicks: s => { s.ticks = all.map(v => ({ value: v })); },
    afterFit: s => { s.height = height; },
    ticks: {
      display: showLabels, autoSkip: false, maxRotation: 0, minRotation: 0, padding: 1,
      color: TEXT, font: { family: FONT, size: 11.5 },
      callback: v => { const i = X_MAJOR.indexOf(v); return i < 0 ? '' : X_MAJOR_LABELS[i]; },
    },
    grid: {
      color: c => (c.tick && X_MAJOR.includes(c.tick.value)) ? GRID : 'rgba(0,0,0,0)',
      lineWidth: 1.1, tickColor: TICK, tickLength: 4, drawTicks: true,
    },
    border: { display: false },
  };
}
function yScale(o) {
  return {
    type: 'linear', position: o.position, min: o.min, max: o.max,
    afterFit: s => { s.width = o.width; },
    ticks: { stepSize: o.step, includeBounds: false, padding: 3, color: TEXT,
             font: { family: FONT, size: 11.5 }, callback: o.fmt || (v => String(v)) },
    grid: { color: GRID, lineWidth: 1.1, tickColor: TICK, tickLength: 4 },
    border: { display: false },
  };
}

// text with sub/superscript runs, optionally rotated to read bottom-to-top
function drawRich(ctx, parts, cx, cy, size, rotate) {
  ctx.save();
  ctx.translate(cx, cy);
  if (rotate) ctx.rotate(-Math.PI / 2);
  const small = size * 0.7;
  const fontOf = p => `${(p.sub || p.sup) ? small : size}px "${FONT}"`;
  const widths = parts.map(p => { ctx.font = fontOf(p); return ctx.measureText(p.t).width; });
  let x = -widths.reduce((a, b) => a + b, 0) / 2;
  ctx.textAlign = 'left';
  ctx.textBaseline = 'alphabetic';
  ctx.fillStyle = TEXT;
  const base = size * 0.36;
  parts.forEach((p, i) => {
    ctx.font = fontOf(p);
    const dy = p.sub ? size * 0.22 : p.sup ? -size * 0.42 : 0;
    ctx.fillText(p.t, x, base + dy);
    x += widths[i];
  });
  ctx.restore();
}

// frame, axis title, panel tag and legend box
const decor = {
  id: 'decor',
  afterDraw(chart, args, opts) {
    const { ctx, chartArea: a } = chart;
    ctx.save();
    ctx.strokeStyle = FRAME;
    ctx.lineWidth = 1.1;
    ctx.strokeRect(a.left, a.top, a.right - a.left, a.bottom - a.top);
    ctx.restore();

    if (opts.title) {
      const cx = opts.titleSide === 'right' ? a.right + opts.titleOffset : a.left - opts.titleOffset;
      drawRich(ctx, opts.title, cx, (a.top + a.bottom) / 2 + (opts.titleShift || 0), 15.5, true);
    }
    if (opts.tag) {
      ctx.save();
      ctx.font = `15px "${FONT}"`;
      ctx.fillStyle = TEXT;
      ctx.textBaseline = 'middle';
      ctx.fillText(opts.tag, a.left + 5, a.top + 11);
      ctx.restore();
    }
    if (opts.legend) {
      const items = chart.data.datasets.filter(d => d.inLegend).sort((p, q) => p.legendRank - q.legendRank);
      const w = 151, h = 61, x = a.right - 6 - w, y = a.top + 6, r = 3;
      ctx.save();
      ctx.beginPath();
      ctx.moveTo(x + r, y); ctx.lineTo(x + w - r, y); ctx.arcTo(x + w, y, x + w, y + r, r);
      ctx.lineTo(x + w, y + h - r); ctx.arcTo(x + w, y + h, x + w - r, y + h, r);
      ctx.lineTo(x + r, y + h); ctx.arcTo(x, y + h, x, y + h - r, r);
      ctx.lineTo(x, y + r); ctx.arcTo(x, y, x + r, y, r);
      ctx.closePath();
      ctx.fillStyle = 'rgba(255,255,255,0.8)';
      ctx.fill();
      ctx.strokeStyle = '#d0d0d0';
      ctx.lineWidth = 1;
      ctx.stroke();
      ctx.font = `12.6px "${FONT}"`;
      ctx.textBaseline = 'middle';
      items.forEach((d, i) => {
        const cy = y + 11.7 + i * 18.8;
        ctx.beginPath();
        ctx.moveTo(x + 4, cy); ctx.lineTo(x + 30, cy);
        ctx.strokeStyle = d.borderColor; ctx.lineWidth = d.borderWidth;
        ctx.stroke();
        ctx.fillStyle = TEXT;
        ctx.fillText(d.label, x + 39.5, cy + 0.5);
      });
      ctx.restore();
    }
  },
};

function place(id, rect) {
  const c = document.getElementById(id);
  c.width = rect.w; c.height = rect.h;
  c.style.left = rect.x + 'px'; c.style.top = rect.y + 'px';
  c.style.width = rect.w + 'px'; c.style.height = rect.h + 'px';
  return c;
}

function makeChart(id, rect, area, yOpts, xShowLabels, datasets, decorOpts) {
  const canvas = place(id, rect);
  const yRight = yOpts.position === 'right';
  const yWidth = yRight ? (rect.x + rect.w) - area.r : area.l - rect.x;
  const padding = {
    top: area.t - rect.y,
    bottom: 0,
    left: yRight ? area.l - rect.x : 0,
    right: yRight ? 0 : (rect.x + rect.w) - area.r,
  };
  return new Chart(canvas, {
    type: 'line',
    data: { datasets },
    options: {
      responsive: false, animation: false, events: [],
      devicePixelRatio: 1,
      layout: { padding, autoPadding: false },
      scales: {
        x: xScale((rect.y + rect.h) - area.b, xShowLabels),
        y: yScale(Object.assign({ width: yWidth }, yOpts)),
      },
      plugins: { legend: { display: false }, tooltip: { enabled: false }, decor: decorOpts },
    },
    plugins: [decor],
  });
}

const FLUX_TITLE = [{ t: 'Φ' }, { t: 'SO2', sub: true }, { t: ' [kg s' }, { t: '−1', sup: true }, { t: ']' }];
const KAPPA_TITLE = [{ t: 'κ' }];
const VEFF_TITLE_A = [{ t: 'v' }, { t: 'eff', sub: true }, { t: ' [m s' }, { t: '−1', sup: true }, { t: ']' }];
const VEFF_TITLE_B = [{ t: 'v' }, { t: 'eff', sub: true }, { t: ' [m/s]' }];

function buildPanel(p) {
  const S = p.style;
  const ox = p.offsetX;
  const L = p.left, R = p.right;
  const glob = Object.assign(lineSet(p.glob, S.glob, 3, SERIES_LABELS[0]), { legendRank: 0 });
  const raw = Object.assign(lineSet(p.raw, S.raw, 2, SERIES_LABELS[1]), { legendRank: 1 });
  const hybrid = Object.assign(lineSet(p.hybrid, S.hybrid, 1, SERIES_LABELS[2]), { legendRank: 2 });

  makeChart(p.ids[0], { x: ox, y: 0, w: 667, h: 306 }, { l: L, r: R, t: 14, b: 298 },
    { position: 'left', min: 0, max: p.fluxMax, step: 2 }, false,
    [ hybrid, raw, glob, ...bandSets(p.hybridBand, S.hybridBand, 4), ...bandSets(p.globBand, S.globBand, 5) ],
    { title: FLUX_TITLE, titleSide: 'left', titleOffset: 30, tag: p.tag, legend: true });

  makeChart(p.ids[1], { x: ox, y: 290, w: 667, h: 130 }, { l: L, r: R, t: 307, b: 402 },
    { position: 'right', min: 0, max: 5.43, step: 2 }, false,
    [ plainLine(p.veff, S.veff), ...bandSets(p.veffBand, S.veffBand, 2) ],
    { title: p.veffTitle, titleSide: 'right', titleOffset: 20, titleShift: -3 });

  makeChart(p.ids[2], { x: ox, y: 395, w: 667, h: 124 }, { l: L, r: R, t: 409, b: 504 },
    { position: 'left', min: 0, max: 1, step: 0.25, fmt: v => v.toFixed(2) }, true,
    [ plainLine(p.kappa, S.kappa) ],
    { title: KAPPA_TITLE, titleSide: 'left', titleOffset: 40 });
}

buildPanel({
  ids: ['aTop', 'aMid', 'aBot'], offsetX: 0, left: 55, right: 616, fluxMax: 15.0, tag: PANEL_TAGS[0], style: STYLE_A,
  glob: A_GLOB, raw: A_RAW, hybrid: A_HYBRID, globBand: A_GLOB_BAND, hybridBand: A_HYBRID_BAND,
  veff: A_VEFF, veffBand: A_VEFF_BAND, kappa: A_KAPPA, veffTitle: VEFF_TITLE_A,
});
buildPanel({
  ids: ['bTop', 'bMid', 'bBot'], offsetX: 667, left: 745, right: 1306, fluxMax: 15.9, tag: PANEL_TAGS[1], style: STYLE_B,
  glob: B_GLOB, raw: B_RAW, hybrid: B_HYBRID, globBand: B_GLOB_BAND, hybridBand: B_HYBRID_BAND,
  veff: B_VEFF, veffBand: B_VEFF_BAND, kappa: B_KAPPA, veffTitle: VEFF_TITLE_B,
});
</script>
</body>
</html>
